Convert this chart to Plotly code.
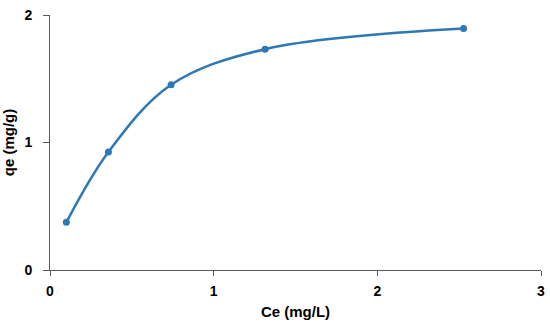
import plotly.graph_objects as go

ce = [0.10, 0.357, 0.74, 1.314, 2.527]
qe = [0.374, 0.925, 1.453, 1.732, 1.894]
x_ticks = [0, 1, 2, 3]
y_ticks = [0, 1, 2]

color = "#2e78b5"
fig = go.Figure()
fig.add_trace(go.Scatter(
    x=ce, y=qe, mode="lines+markers",
    line=dict(color=color, width=2.5, shape="spline", smoothing=1.0),
    marker=dict(color=color, size=7),
    showlegend=False,
))

font = dict(family="Liberation Sans, Arial, sans-serif", size=14, color="black")
fig.update_layout(
    width=550, height=326,
    margin=dict(l=50, r=9, t=15, b=56),
    paper_bgcolor="white", plot_bgcolor="white",
    font=font,
)
fig.update_xaxes(
    range=[0, 3], tickvals=x_ticks, ticktext=[f"<b>{v}</b>" for v in x_ticks],
    showline=True, linecolor="#595959", linewidth=1, showgrid=False, zeroline=False,
    ticks="outside", ticklen=5, tickcolor="#595959", ticklabelstandoff=3,
    automargin=False,
    title=dict(text="<b>Ce (mg/L)</b>", standoff=8, font=dict(size=15)),
)
fig.update_yaxes(
    range=[0, 2], tickvals=y_ticks, ticktext=[f"<b>{v}</b>" for v in y_ticks],
    showline=True, linecolor="#595959", linewidth=1, showgrid=False, zeroline=False,
    ticks="outside", ticklen=6, tickcolor="#595959", ticklabelstandoff=8,
    automargin=False,
    title=dict(text="<b>qe (mg/g)</b>", standoff=7, font=dict(size=15)),
)
fig.write_html("out.html", config={"displayModeBar": False},
               post_script="document.body.style.margin='0';document.body.style.overflow='hidden';")
